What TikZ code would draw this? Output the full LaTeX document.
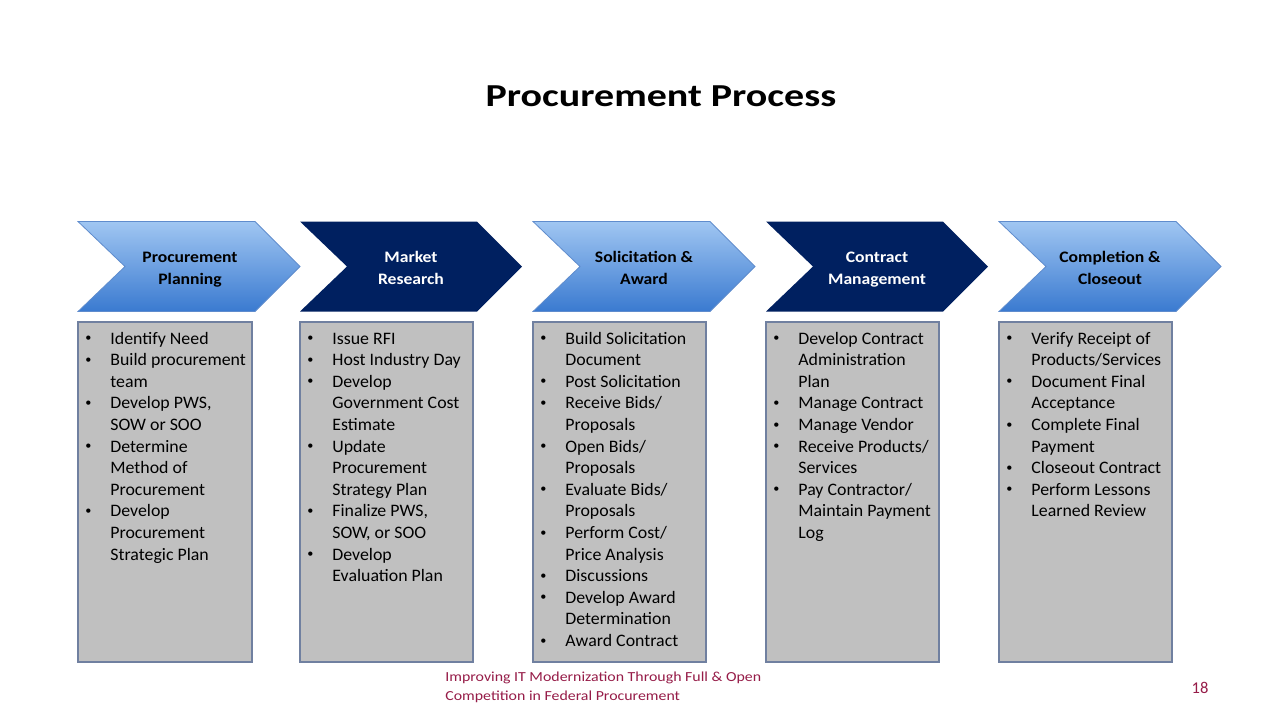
\documentclass[tikz,border=0pt]{standalone}
\usepackage{fontspec}
\setmainfont{Carlito}
\newfontfamily\titlef{Carlito}[FakeStretch=1.25]
\newfontfamily\chevf{Carlito}[FakeStretch=1.1]
\newfontfamily\bodyf{Carlito}[FakeStretch=1.02]
\newfontfamily\footf{Carlito}[FakeStretch=1.15]
\definecolor{navy}{RGB}{0,32,96}
\definecolor{chevtop}{RGB}{160,198,242}
\definecolor{chevbot}{RGB}{58,122,208}
\definecolor{chevedge}{RGB}{95,140,205}
\definecolor{boxgray}{RGB}{192,192,192}
\definecolor{boxedge}{RGB}{112,128,160}
\definecolor{footred}{RGB}{150,28,72}
\newcommand\chevpath[2]{\path[#2] (#1,221.5) -- ++(177,0) -- ++(45,45) -- ++(-45,45) -- ++(-177,0) -- ++(47,-45) -- cycle;}
\newcommand\bb{\hspace{-1pt}\raisebox{0.13em}{\fontsize{6}{6}\selectfont\textbullet}}
\tikzset{
  chevlight/.style={top color=chevtop, bottom color=chevbot, draw=chevedge, line width=0.4pt},
  chevdark/.style={fill=navy},
  chevlabel/.style={inner sep=0, anchor=center, font=\chevf\bfseries\fontsize{8}{11}\selectfont},
  lightlabel/.style={chevlabel, text=black},
  darklabel/.style={chevlabel, text=white},
  listbox/.style={fill=boxgray, draw=boxedge, line width=0.6pt},
  listtext/.style={anchor=north west, inner sep=0, font=\bodyf\fontsize{8.75}{10.8}\selectfont},
  titlestyle/.style={anchor=base, inner sep=0, font=\titlef\bfseries\fontsize{16}{19}\selectfont},
  footstyle/.style={anchor=north west, inner sep=0, align=left, text=footred, font=\footf\fontsize{6.9}{9.5}\selectfont},
  pagestyle/.style={anchor=base, inner sep=0, text=footred, font=\fontsize{8.25}{10}\selectfont}
}
\begin{document}
\begin{tikzpicture}[x=0.5pt, y=-0.5pt]
\useasboundingbox (0,0) rectangle (1280,720);
\fill[white] (0,0) rectangle (1280,720);

\node[titlestyle] (title) at (661,106) {Procurement Process};

% chevrons
\chevpath{78}{chevlight}
\chevpath{300}{chevdark}
\chevpath{533}{chevlight}
\chevpath{766}{chevdark}
\chevpath{999}{chevlight}

\node[lightlabel] (h1) at (190,269) {\begin{tabular}{@{}c@{}}Procurement\\Planning\end{tabular}};
\node[darklabel]  (h2) at (411,269) {\begin{tabular}{@{}c@{}}Market\\Research\end{tabular}};
\node[lightlabel] (h3) at (644,269) {\begin{tabular}{@{}c@{}}Solicitation \&\\Award\end{tabular}};
\node[darklabel]  (h4) at (877,269) {\begin{tabular}{@{}c@{}}Contract\\Management\end{tabular}};
\node[lightlabel] (h5) at (1110,269) {\begin{tabular}{@{}c@{}}Completion \&\\Closeout\end{tabular}};

% boxes
\path[listbox] (78,322) rectangle (252,662);
\path[listbox] (300,322) rectangle (473,662);
\path[listbox] (533,322) rectangle (706,662);
\path[listbox] (766,322) rectangle (939,662);
\path[listbox] (999,322) rectangle (1172,662);

\node[listtext] (l1) at (87,328.5) {\begin{tabular}{@{}p{11.5pt}@{}l@{}}
\bb & Identify Need\\
\bb & Build procurement\\
    & team\\
\bb & Develop PWS,\\
    & SOW or SOO\\
\bb & Determine\\
    & Method of\\
    & Procurement\\
\bb & Develop\\
    & Procurement\\
    & Strategic Plan
\end{tabular}};

\node[listtext] (l2) at (309,328.5) {\begin{tabular}{@{}p{11.5pt}@{}l@{}}
\bb & Issue RFI\\
\bb & Host Industry Day\\
\bb & Develop\\
    & Government Cost\\
    & Estimate\\
\bb & Update\\
    & Procurement\\
    & Strategy Plan\\
\bb & Finalize PWS,\\
    & SOW, or SOO\\
\bb & Develop\\
    & Evaluation Plan
\end{tabular}};

\node[listtext] (l3) at (542,328.5) {\begin{tabular}{@{}p{11.5pt}@{}l@{}}
\bb & Build Solicitation\\
    & Document\\
\bb & Post Solicitation\\
\bb & Receive Bids/\\
    & Proposals\\
\bb & Open Bids/\\
    & Proposals\\
\bb & Evaluate Bids/\\
    & Proposals\\
\bb & Perform Cost/\\
    & Price Analysis\\
\bb & Discussions\\
\bb & Develop Award\\
    & Determination\\
\bb & Award Contract
\end{tabular}};

\node[listtext] (l4) at (775,328.5) {\begin{tabular}{@{}p{11.5pt}@{}l@{}}
\bb & Develop Contract\\
    & Administration\\
    & Plan\\
\bb & Manage Contract\\
\bb & Manage Vendor\\
\bb & Receive Products/\\
    & Services\\
\bb & Pay Contractor/\\
    & Maintain Payment\\
    & Log
\end{tabular}};

\node[listtext] (l5) at (1008,328.5) {\begin{tabular}{@{}p{11.5pt}@{}l@{}}
\bb & Verify Receipt of\\
    & Products/Services\\
\bb & Document Final\\
    & Acceptance\\
\bb & Complete Final\\
    & Payment\\
\bb & Closeout Contract\\
\bb & Perform Lessons\\
    & Learned Review
\end{tabular}};

\node[footstyle] (foot) at (445,672) {Improving IT Modernization Through Full \& Open\\Competition in Federal Procurement};
\node[pagestyle] (page) at (1200,693) {18};
\end{tikzpicture}
\end{document}
